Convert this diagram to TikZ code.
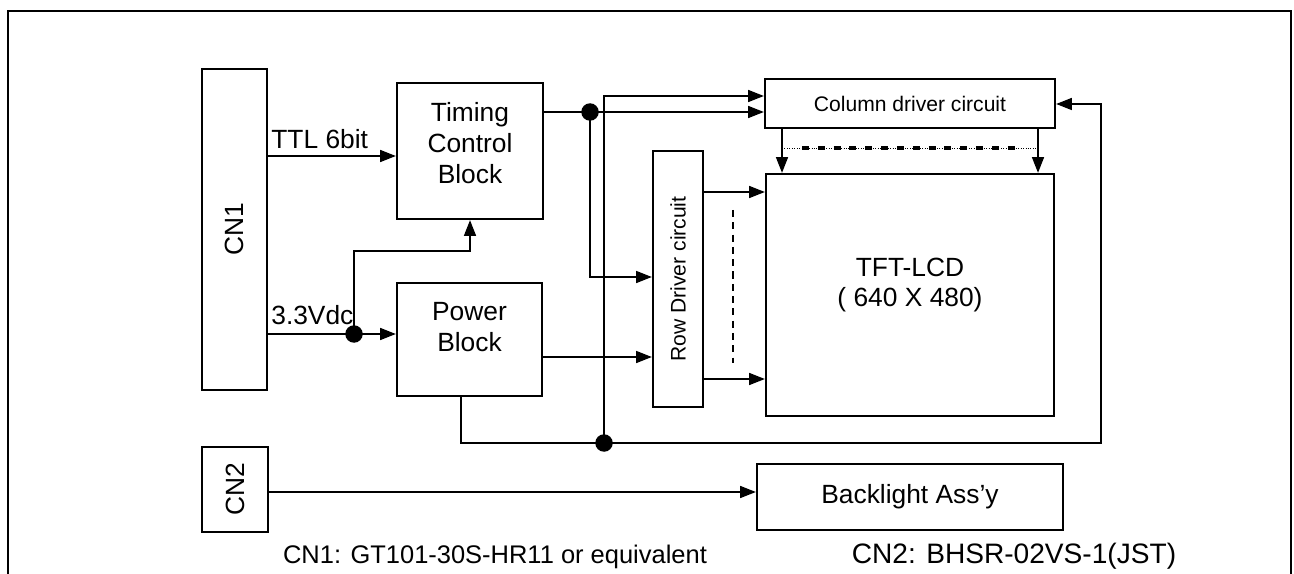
\documentclass[tikz,border=0pt]{standalone}
\usepackage{fontspec}
\setmainfont{Liberation Sans}
\usetikzlibrary{arrows.meta}
\tikzset{
  blk/.style={draw,line width=1.3pt,inner sep=0pt},
  lbl/.style={font=\fontsize{15}{17.6}\selectfont,align=center,inner sep=0pt},
  smalllbl/.style={font=\fontsize{12}{14}\selectfont,inner sep=0pt},
  caplbl/.style={font=\fontsize{14.5}{17}\selectfont,inner sep=0pt},
  wire/.style={line width=1pt},
  arr/.style={wire,-{Triangle[length=9pt,width=6.8pt]}},
  dot/.style={circle,fill=black,inner sep=0pt,minimum size=0.35cm},
}
\begin{document}
\begin{tikzpicture}[x=0.02cm,y=-0.02cm]
  \useasboundingbox (0,0) rectangle (1294,574);
  \draw[line width=1.2pt] (8,574) |- (1291,11) -- (1291,574);
  % blocks
  \node[blk,minimum width=1.30cm,minimum height=6.42cm] (cn1) at (234.5,229.5) {};
  \node[lbl,rotate=90] (cn1lbl) at (cn1.center) {CN1};
  \node[blk,minimum width=2.92cm,minimum height=2.72cm] (timing) at (470,151) {};
  \node[lbl] (timinglbl) at (470,143) {Timing\\Control\\Block};
  \node[blk,minimum width=2.90cm,minimum height=2.26cm] (power) at (469.5,339.5) {};
  \node[lbl] (powerlbl) at (469.5,327) {Power\\Block};
  \node[blk,smalllbl,minimum width=5.80cm,minimum height=0.98cm] (column) at (910,103.5) {Column driver circuit};
  \node[blk,minimum width=1.00cm,minimum height=5.12cm] (row) at (678,279) {};
  \node[smalllbl,rotate=90] (rowlbl) at (row.center) {Row Driver circuit};
  \node[blk,minimum width=5.76cm,minimum height=4.84cm] (tft) at (910,295) {};
  \node[lbl] (tftlbl) at (910,285) {TFT-LCD\\( 640 X 480)};
  \node[blk,minimum width=1.32cm,minimum height=1.70cm] (cn2) at (235,489.5) {};
  \node[lbl,rotate=90] (cn2lbl) at (cn2.center) {CN2};
  \node[blk,lbl,minimum width=6.12cm,minimum height=1.32cm] (backlight) at (910,497) {Backlight Ass’y};
  % junctions
  \node[dot] (j1) at (354,334) {};
  \node[dot] (j2) at (590,112) {};
  \node[dot] (j3) at (604,443) {};
  % signals
  \draw[arr] (cn1.east |- 0,156) -- (timing.west |- 0,156);
  \node[lbl,anchor=base west] (ttl) at (271,149) {TTL 6bit};
  \draw[arr] (cn1.east |- j1) -- (power.west |- j1);
  \node[lbl,anchor=base west] (vdc) at (271,324) {3.3Vdc};
  \draw[arr] (j1.center) |- (354,251) -| (timing.south);
  \draw[arr] (timing.east |- j2) -- (column.west |- j2);
  \draw[arr] (j2.center) |- (row.west |- 0,277);
  \draw[arr] (power.east |- 0,357) -- (row.west |- 0,357);
  \draw[arr] (power.south -| 461,0) |- (1101,443) |- (column.east |- 0,104);
  \draw[arr] (j3.center) |- (column.west |- 0,96);
  \draw[arr] (row.east |- 0,192) -- (tft.west |- 0,192);
  \draw[arr] (row.east |- 0,379) -- (tft.west |- 0,379);
  \draw[line width=1.2pt,dash pattern=on 4pt off 3pt] (733,210) -- (733,363);
  \draw[arr] (column.south -| 782,0) -- (tft.north -| 782,0);
  \draw[arr] (column.south -| 1038,0) -- (tft.north -| 1038,0);
  \draw[line width=0.4pt,densely dotted] (782,148) -- (1038,148);
  \draw[line width=1.8pt,dash pattern=on 4pt off 5pt] (802,148) -- (1022,148);
  \draw[arr] (cn2.east |- 0,492) -- (backlight.west |- 0,492);
  % notes
  \node[caplbl,anchor=base] (cap1) at (495,563) {CN1: GT101-30S-HR11 or equivalent};
  \node[caplbl,font=\fontsize{16}{18}\selectfont,anchor=base] (cap2) at (1014,563) {CN2: BHSR-02VS-1(JST)};
\end{tikzpicture}
\end{document}
